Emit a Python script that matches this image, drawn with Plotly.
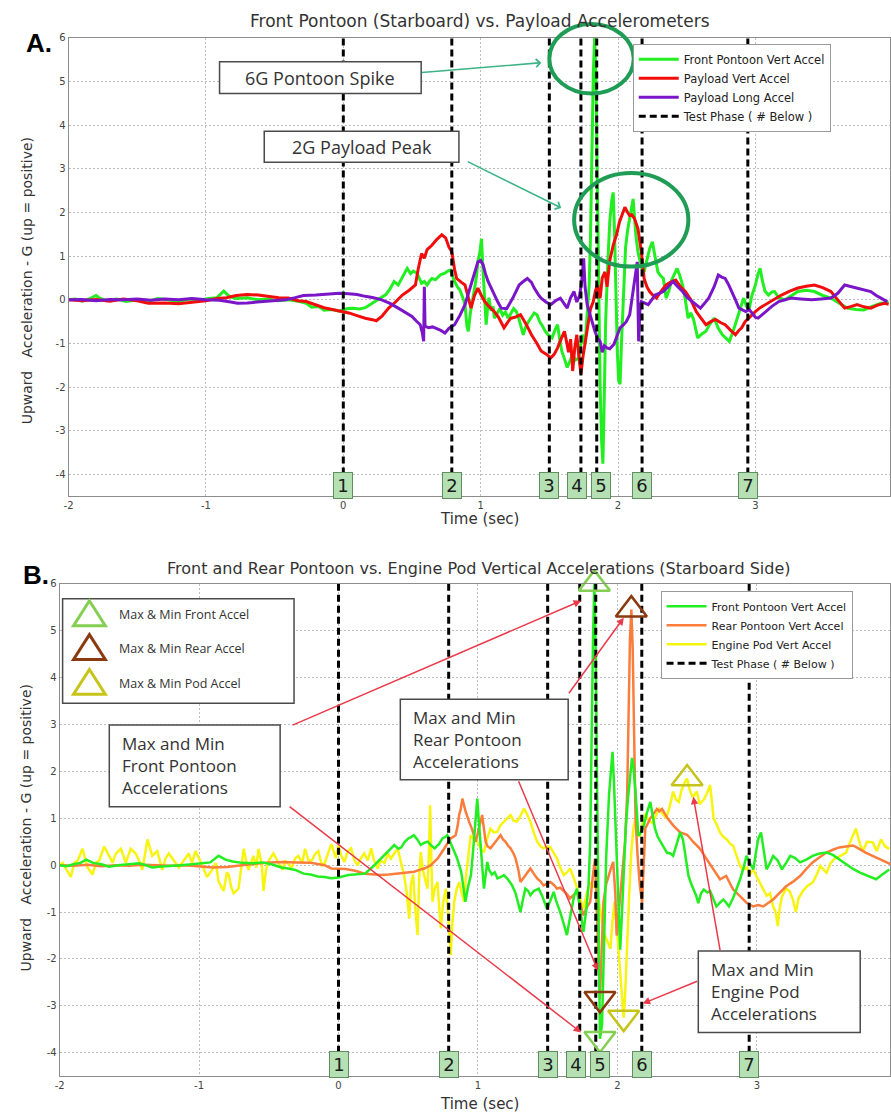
import numpy as np
import plotly.graph_objects as go

# ---------------------------------------------------------------- data
PHASE_T = [0.0, 0.79, 1.50, 1.73, 1.845, 2.175, 2.945]
PHASE_LABELS = ["1", "2", "3", "4", "5", "6", "7"]
X_TICKS = [-2, -1, 0, 1, 2, 3]
Y_TICKS = [-4, -3, -2, -1, 0, 1, 2, 3, 4, 5, 6]

# (time s, acceleration G) samples
A_FRONT = [
    (-2.00, 0.00), (-1.95, 0.02), (-1.90, -0.03), (-1.85, 0.02), (-1.80, 0.10), (-1.77, 0.03),
    (-1.72, -0.02), (-1.65, 0.02), (-1.58, -0.04), (-1.50, 0.00), (-1.42, -0.03), (-1.35, 0.03),
    (-1.28, 0.00), (-1.20, -0.04), (-1.12, 0.02), (-1.05, -0.01), (-0.98, 0.03), (-0.92, 0.05),
    (-0.87, 0.20), (-0.83, 0.08), (-0.78, 0.03), (-0.70, 0.05), (-0.62, 0.00), (-0.55, 0.02),
    (-0.48, -0.02), (-0.40, 0.00), (-0.33, -0.03), (-0.27, -0.08), (-0.23, -0.17), (-0.18, -0.15),
    (-0.14, -0.24), (-0.08, -0.22), (-0.03, -0.26), (0.03, -0.20), (0.07, -0.19), (0.12, -0.21),
    (0.16, -0.18), (0.20, -0.10), (0.24, -0.03), (0.28, 0.05), (0.31, 0.12), (0.34, 0.25),
    (0.37, 0.42), (0.40, 0.34), (0.42, 0.45), (0.44, 0.55), (0.465, 0.72), (0.49, 0.60),
    (0.51, 0.66), (0.537, 0.61), (0.56, 0.45), (0.57, 0.38), (0.59, 0.42), (0.61, 0.34),
    (0.63, 0.44), (0.645, 0.49), (0.67, 0.46), (0.69, 0.53), (0.71, 0.58), (0.74, 0.61),
    (0.76, 0.66), (0.78, 0.68), (0.80, 0.50), (0.81, 0.42), (0.83, 0.30), (0.85, 0.22),
    (0.87, 0.05), (0.886, -0.11), (0.90, -0.60), (0.91, -0.72), (0.925, -0.30), (0.94, -0.05),
    (0.96, 0.34), (0.97, 0.55), (0.98, 0.87), (0.995, 1.10), (1.006, 1.40), (1.015, 0.80),
    (1.025, 0.20), (1.04, -0.57), (1.05, -0.20), (1.06, 0.05), (1.075, -0.25), (1.09, -0.15),
    (1.10, -0.42), (1.12, -0.30), (1.14, -0.20), (1.16, -0.35), (1.18, -0.28), (1.20, -0.42),
    (1.22, -0.32), (1.24, -0.20), (1.26, -0.27), (1.28, -0.45), (1.31, -0.80), (1.33, -0.60),
    (1.35, -0.49), (1.37, -0.40), (1.39, -0.30), (1.41, -0.34), (1.43, -0.50), (1.45, -0.60),
    (1.47, -0.72), (1.49, -0.80), (1.52, -0.87), (1.54, -0.70), (1.56, -0.57), (1.575, -0.90),
    (1.59, -1.17), (1.61, -1.35), (1.63, -1.55), (1.65, -1.40), (1.67, -1.25), (1.69, -1.38),
    (1.715, -1.33), (1.73, -1.00), (1.74, -0.80), (1.76, -1.02), (1.775, -0.40), (1.79, 0.34),
    (1.80, 1.50), (1.81, 3.50), (1.82, 5.20), (1.83, 6.00), (1.84, 5.00), (1.85, 2.50),
    (1.86, 0.00), (1.87, -2.00), (1.88, -3.20), (1.89, -3.75), (1.90, -2.20), (1.91, -0.50),
    (1.925, 0.80), (1.94, 1.80), (1.955, 2.30), (1.965, 2.46), (1.975, 1.50), (1.985, 0.00),
    (1.995, -1.20), (2.005, -1.86), (2.015, -1.93), (2.025, -1.00), (2.04, 0.30), (2.055, 1.20),
    (2.07, 1.60), (2.085, 1.86), (2.10, 2.20), (2.11, 2.31), (2.12, 1.90), (2.13, 1.48),
    (2.145, 1.10), (2.16, 0.87), (2.175, 0.70), (2.19, 0.64), (2.21, 0.90), (2.23, 1.17),
    (2.25, 1.33), (2.27, 0.95), (2.29, 0.64), (2.31, 0.55), (2.33, 0.49), (2.35, 0.04),
    (2.37, 0.20), (2.39, 0.45), (2.41, 0.60), (2.43, 0.72), (2.45, 0.55), (2.47, 0.34),
    (2.49, 0.00), (2.51, -0.42), (2.53, -0.30), (2.55, -0.45), (2.58, -0.87), (2.61, -0.78),
    (2.64, -0.72), (2.67, -0.55), (2.70, -0.42), (2.73, -0.65), (2.76, -0.80), (2.79, -0.88),
    (2.81, -0.95), (2.835, -0.75), (2.855, -0.57), (2.88, -0.30), (2.90, -0.10), (2.915, 0.04),
    (2.935, -0.15), (2.955, -0.20), (2.975, 0.10), (3.00, 0.34), (3.02, 0.60), (3.035, 0.72),
    (3.05, 0.45), (3.07, 0.20), (3.095, 0.11), (3.12, 0.18), (3.14, 0.19), (3.17, 0.05),
    (3.215, 0.00), (3.26, 0.10), (3.31, 0.19), (3.37, 0.22), (3.43, 0.19), (3.49, 0.10),
    (3.55, 0.04), (3.61, -0.08), (3.67, -0.19), (3.73, -0.22), (3.79, -0.23), (3.85, -0.15),
    (3.91, -0.08), (3.97, -0.05),
]

A_PAYLOAD_VERT = [
    (-2.00, 0.00), (-1.90, -0.02), (-1.80, 0.01), (-1.70, -0.03), (-1.60, 0.02), (-1.50, -0.02),
    (-1.42, -0.08), (-1.30, -0.07), (-1.20, -0.09), (-1.10, -0.05), (-1.00, -0.02), (-0.92, 0.03),
    (-0.85, 0.05), (-0.78, 0.10), (-0.70, 0.12), (-0.62, 0.11), (-0.55, 0.08), (-0.47, 0.05),
    (-0.40, 0.04), (-0.33, -0.02), (-0.27, -0.04), (-0.20, -0.12), (-0.14, -0.18), (-0.08, -0.22),
    (-0.02, -0.26), (0.04, -0.30), (0.10, -0.36), (0.16, -0.42), (0.22, -0.46), (0.24, -0.48),
    (0.28, -0.38), (0.33, -0.19), (0.38, -0.05), (0.43, 0.11), (0.48, 0.22), (0.525, 0.34),
    (0.545, 0.70), (0.57, 1.06), (0.59, 0.95), (0.61, 1.15), (0.645, 1.25), (0.68, 1.38),
    (0.717, 1.49), (0.745, 1.42), (0.77, 1.20), (0.79, 1.10), (0.81, 0.70), (0.825, 0.49),
    (0.86, 0.40), (0.886, 0.34), (0.91, 0.05), (0.93, -0.19), (0.955, 0.10), (0.98, 0.27),
    (1.005, 0.10), (1.03, -0.04), (1.06, -0.15), (1.10, -0.27), (1.13, -0.40), (1.17, -0.64),
    (1.20, -0.50), (1.22, -0.42), (1.25, -0.40), (1.29, -0.34), (1.33, -0.55), (1.37, -0.80),
    (1.41, -1.00), (1.44, -1.17), (1.48, -1.25), (1.51, -1.33), (1.535, -1.25), (1.56, -1.10),
    (1.585, -0.90), (1.61, -0.72), (1.625, -0.95), (1.64, -1.20), (1.655, -0.90), (1.67, -1.63),
    (1.685, -1.10), (1.70, -0.80), (1.715, -1.30), (1.73, -1.70), (1.745, -1.30), (1.76, -1.02),
    (1.78, -0.60), (1.80, -0.20), (1.82, -0.04), (1.835, 0.20), (1.85, 0.34), (1.87, 0.04),
    (1.885, 0.50), (1.905, 0.64), (1.92, 0.30), (1.94, 0.90), (1.965, 1.25), (1.99, 1.50),
    (2.01, 1.78), (2.03, 1.95), (2.05, 2.12), (2.07, 2.00), (2.085, 1.93), (2.10, 1.95),
    (2.12, 1.86), (2.145, 1.63), (2.16, 1.35), (2.17, 1.10), (2.18, 0.80), (2.19, 0.49),
    (2.21, 0.30), (2.23, 0.19), (2.255, 0.10), (2.28, 0.04), (2.31, 0.18), (2.35, 0.34),
    (2.38, 0.40), (2.42, 0.45), (2.455, 0.30), (2.49, 0.19), (2.53, 0.00), (2.57, -0.27),
    (2.60, -0.40), (2.64, -0.57), (2.675, -0.50), (2.71, -0.45), (2.745, -0.52), (2.78, -0.57),
    (2.82, -0.70), (2.855, -0.80), (2.88, -0.70), (2.90, -0.64), (2.925, -0.50), (2.95, -0.42),
    (2.975, -0.35), (3.00, -0.27), (3.035, -0.18), (3.07, -0.11), (3.13, 0.00), (3.19, 0.11),
    (3.25, 0.20), (3.31, 0.27), (3.37, 0.31), (3.43, 0.34), (3.49, 0.28), (3.55, 0.19),
    (3.60, 0.00), (3.65, -0.19), (3.70, -0.15), (3.74, -0.11), (3.79, -0.16), (3.84, -0.19),
    (3.89, -0.12), (3.94, -0.08), (3.97, -0.10),
]

A_PAYLOAD_LONG = [
    (-2.00, 0.00), (-1.90, 0.01), (-1.80, -0.02), (-1.70, 0.01), (-1.60, 0.00), (-1.50, 0.02),
    (-1.40, -0.01), (-1.30, 0.02), (-1.20, 0.00), (-1.10, 0.03), (-1.00, 0.00), (-0.90, -0.01),
    (-0.82, -0.05), (-0.77, -0.08), (-0.70, -0.07), (-0.60, -0.05), (-0.50, -0.03), (-0.42, 0.00),
    (-0.35, 0.05), (-0.29, 0.10), (-0.20, 0.11), (-0.12, 0.13), (-0.03, 0.15), (0.04, 0.14),
    (0.10, 0.12), (0.16, 0.08), (0.22, 0.05), (0.28, 0.00), (0.34, -0.08), (0.40, -0.19),
    (0.45, -0.28), (0.50, -0.38), (0.53, -0.48), (0.56, -0.57), (0.575, -0.75), (0.585, -0.95),
    (0.59, 0.30), (0.595, -0.60), (0.62, -0.64), (0.65, -0.62), (0.68, -0.66), (0.71, -0.70),
    (0.74, -0.76), (0.77, -0.65), (0.81, -0.57), (0.85, -0.35), (0.886, -0.11), (0.91, 0.15),
    (0.93, 0.34), (0.955, 0.60), (0.98, 0.87), (1.00, 0.90), (1.018, 0.80), (1.035, 0.60),
    (1.054, 0.42), (1.08, 0.25), (1.10, 0.11), (1.125, -0.05), (1.15, -0.19), (1.19, -0.20),
    (1.234, 0.04), (1.26, 0.20), (1.28, 0.34), (1.31, 0.42), (1.34, 0.49), (1.37, 0.40),
    (1.39, 0.27), (1.42, 0.12), (1.44, 0.04), (1.475, -0.05), (1.51, -0.11), (1.545, -0.02),
    (1.58, 0.04), (1.61, -0.10), (1.63, -0.19), (1.655, 0.05), (1.68, 0.19), (1.70, -0.05),
    (1.72, 0.10), (1.735, 0.40), (1.75, 0.95), (1.76, 0.30), (1.775, -0.10), (1.79, -0.27),
    (1.81, -0.50), (1.83, -0.70), (1.85, -0.87), (1.87, -0.95), (1.885, -1.20), (1.90, -1.05),
    (1.92, -1.10), (1.94, -1.12), (1.97, -1.02), (1.99, -0.85), (2.015, -0.64), (2.04, -0.57),
    (2.06, -0.50), (2.085, -0.34), (2.105, 0.10), (2.12, 0.34), (2.14, 0.87), (2.15, -0.95),
    (2.16, -0.20), (2.17, -0.04), (2.195, -0.08), (2.22, -0.11), (2.245, 0.00), (2.27, 0.11),
    (2.30, 0.15), (2.33, 0.19), (2.365, 0.30), (2.40, 0.42), (2.435, 0.30), (2.47, 0.19),
    (2.505, 0.05), (2.54, -0.04), (2.57, -0.12), (2.60, -0.19), (2.63, -0.08), (2.66, 0.04),
    (2.70, 0.30), (2.73, 0.57), (2.755, 0.52), (2.78, 0.49), (2.805, 0.35), (2.83, 0.19),
    (2.855, 0.00), (2.88, -0.19), (2.905, -0.24), (2.93, -0.27), (2.955, -0.22), (2.98, -0.32),
    (3.00, -0.40), (3.02, -0.42), (3.045, -0.35), (3.07, -0.27), (3.12, -0.15), (3.17, -0.04),
    (3.22, 0.00), (3.26, 0.04), (3.33, 0.02), (3.41, 0.00), (3.48, 0.02), (3.55, 0.04),
    (3.60, 0.15), (3.65, 0.34), (3.70, 0.30), (3.74, 0.27), (3.79, 0.24), (3.84, 0.19),
    (3.88, 0.10), (3.91, 0.04), (3.96, -0.04),
]

B_FRONT = [
    (-2.00, 0.00), (-1.95, -0.02), (-1.90, 0.02), (-1.85, 0.05), (-1.81, 0.12), (-1.76, 0.05),
    (-1.70, 0.02), (-1.645, -0.03), (-1.58, 0.00), (-1.50, 0.02), (-1.43, 0.04), (-1.38, 0.00),
    (-1.336, -0.05), (-1.27, -0.03), (-1.20, -0.02), (-1.13, 0.00), (-1.05, 0.02), (-0.98, 0.05),
    (-0.92, 0.06), (-0.86, 0.20), (-0.81, 0.12), (-0.76, 0.08), (-0.69, 0.05), (-0.62, 0.04),
    (-0.55, 0.06), (-0.48, 0.02), (-0.41, -0.05), (-0.36, -0.07), (-0.31, -0.10), (-0.25, -0.18),
    (-0.20, -0.20), (-0.15, -0.24), (-0.10, -0.25), (-0.05, -0.28), (0.00, -0.26), (0.07, -0.21),
    (0.13, -0.20), (0.19, -0.18), (0.24, -0.05), (0.28, 0.07), (0.31, 0.15), (0.35, 0.28),
    (0.38, 0.35), (0.40, 0.43), (0.43, 0.35), (0.45, 0.38), (0.475, 0.50), (0.50, 0.57),
    (0.52, 0.60), (0.54, 0.64), (0.565, 0.55), (0.59, 0.43), (0.615, 0.48), (0.64, 0.50),
    (0.665, 0.42), (0.69, 0.36), (0.72, 0.45), (0.745, 0.57), (0.765, 0.60), (0.78, 0.64),
    (0.80, 0.50), (0.82, 0.36), (0.85, 0.15), (0.88, -0.14), (0.895, -0.50), (0.91, -0.78),
    (0.93, -0.45), (0.95, -0.21), (0.965, 0.30), (0.976, 0.71), (0.995, 1.42), (1.005, 1.00),
    (1.02, 0.50), (1.03, 0.00), (1.043, -0.50), (1.055, -0.20), (1.067, 0.07), (1.08, -0.10),
    (1.10, -0.20), (1.12, -0.15), (1.14, -0.28), (1.165, -0.25), (1.186, -0.21), (1.215, -0.30),
    (1.245, -0.43), (1.27, -0.60), (1.29, -0.85), (1.305, -1.00), (1.325, -0.70), (1.34, -0.50),
    (1.36, -0.55), (1.376, -0.64), (1.40, -0.55), (1.436, -0.50), (1.46, -0.65), (1.48, -0.80),
    (1.495, -0.93), (1.52, -0.75), (1.543, -0.57), (1.565, -0.80), (1.59, -1.00), (1.615, -1.25),
    (1.638, -1.49), (1.655, -1.20), (1.675, -0.85), (1.69, -0.65), (1.71, -0.50), (1.73, -0.90),
    (1.757, -1.42), (1.775, -1.00), (1.793, -0.43), (1.805, 0.50), (1.815, 2.80), (1.825, 4.80),
    (1.835, 6.00), (1.845, 4.50), (1.855, 1.50), (1.865, -1.50), (1.875, -3.70), (1.89, -3.40),
    (1.905, -1.50), (1.92, 0.20), (1.94, 1.50), (1.955, 2.20), (1.965, 2.42), (1.975, 1.80),
    (1.99, 0.50), (2.005, -0.80), (2.02, -1.80), (2.03, -1.20), (2.045, 0.00), (2.06, 0.80),
    (2.075, 1.40), (2.09, 1.90), (2.105, 2.29), (2.115, 2.10), (2.13, 1.57), (2.15, 0.63),
    (2.17, 0.70), (2.19, 0.85), (2.21, 1.10), (2.236, 1.35), (2.25, 1.10), (2.27, 0.78),
    (2.29, 0.60), (2.31, 0.49), (2.335, 0.35), (2.355, 0.27), (2.38, 0.25), (2.40, 0.20),
    (2.425, 0.45), (2.45, 0.70), (2.47, 0.55), (2.49, 0.15), (2.51, -0.23), (2.53, -0.40),
    (2.546, -0.52), (2.565, -0.65), (2.58, -0.81), (2.60, -0.60), (2.62, -0.52), (2.645, -0.58),
    (2.665, -0.55), (2.69, -0.75), (2.71, -0.88), (2.735, -0.80), (2.76, -0.73), (2.78, -0.80),
    (2.80, -0.88), (2.83, -0.70), (2.855, -0.52), (2.88, -0.30), (2.905, -0.05), (2.926, 0.20),
    (2.95, 0.05), (2.975, -0.09), (2.995, 0.30), (3.01, 0.56), (3.03, 0.70), (3.05, 0.35),
    (3.07, -0.09), (3.095, 0.05), (3.117, 0.20), (3.15, 0.10), (3.18, -0.09), (3.21, 0.05),
    (3.24, 0.20), (3.275, 0.15), (3.31, 0.06), (3.355, 0.12), (3.40, 0.20), (3.45, 0.25),
    (3.50, 0.27), (3.545, 0.22), (3.59, 0.13), (3.64, 0.02), (3.69, -0.08), (3.74, -0.16),
    (3.80, -0.24), (3.855, -0.30), (3.90, -0.20), (3.95, -0.09),
]

B_REAR = [
    (-2.00, 0.00), (-1.90, -0.01), (-1.80, 0.01), (-1.70, -0.02), (-1.60, 0.00), (-1.50, -0.01),
    (-1.40, 0.01), (-1.30, 0.00), (-1.20, -0.01), (-1.10, 0.00), (-1.00, -0.03), (-0.90, -0.05),
    (-0.80, -0.04), (-0.70, 0.00), (-0.60, 0.03), (-0.50, 0.06), (-0.40, 0.07), (-0.30, 0.06),
    (-0.20, 0.05), (-0.10, 0.00), (-0.05, -0.07), (0.05, -0.08), (0.12, -0.12), (0.186, -0.18),
    (0.25, -0.20), (0.305, -0.21), (0.36, -0.20), (0.424, -0.18), (0.48, -0.16), (0.543, -0.14),
    (0.58, -0.10), (0.615, -0.07), (0.662, 0.00), (0.71, 0.14), (0.735, 0.25), (0.757, 0.36),
    (0.78, 0.45), (0.805, 0.57), (0.84, 0.64), (0.855, 0.85), (0.865, 1.07), (0.877, 1.20),
    (0.888, 1.42), (0.90, 1.25), (0.912, 1.14), (0.936, 0.93), (0.96, 0.75), (0.984, 0.50),
    (1.007, 0.78), (1.03, 1.07), (1.055, 0.50), (1.07, 0.40), (1.09, 0.36), (1.115, 0.45),
    (1.14, 0.55), (1.162, 0.64), (1.18, 0.55), (1.198, 0.50), (1.215, 0.42), (1.234, 0.36),
    (1.255, 0.25), (1.27, 0.14), (1.29, -0.10), (1.305, -0.36), (1.32, -0.30), (1.34, -0.21),
    (1.36, -0.12), (1.376, -0.07), (1.40, -0.18), (1.424, -0.28), (1.45, -0.35), (1.47, -0.43),
    (1.495, -0.40), (1.52, -0.36), (1.545, -0.42), (1.567, -0.50), (1.59, -0.48), (1.615, -0.55),
    (1.64, -0.62), (1.66, -0.71), (1.685, -0.65), (1.71, -0.57), (1.735, -0.85), (1.757, -1.07),
    (1.78, -0.90), (1.805, -0.78), (1.825, -0.20), (1.84, 0.14), (1.855, -1.20), (1.865, -2.20),
    (1.875, -2.85), (1.885, -2.00), (1.90, -0.78), (1.92, -0.40), (1.936, -0.21), (1.955, -0.05),
    (1.97, 0.07), (1.985, -0.60), (1.995, -1.50), (2.01, -1.00), (2.03, -0.20), (2.055, 0.50),
    (2.07, 1.50), (2.08, 3.20), (2.09, 4.80), (2.10, 5.45), (2.11, 4.60), (2.12, 2.80),
    (2.13, 1.00), (2.145, 0.20), (2.16, -0.40), (2.177, -0.80), (2.19, 0.10), (2.20, 0.78),
    (2.22, 0.90), (2.236, 1.00), (2.26, 1.10), (2.284, 1.20), (2.30, 1.15), (2.32, 1.20),
    (2.36, 1.00), (2.40, 0.85), (2.45, 0.70), (2.50, 0.65), (2.546, 0.49), (2.593, 0.35),
    (2.64, 0.13), (2.69, -0.09), (2.736, -0.30), (2.78, -0.23), (2.83, -0.52), (2.879, -0.66),
    (2.926, -0.80), (2.974, -0.88), (3.01, -0.85), (3.046, -0.88), (3.08, -0.80), (3.117, -0.73),
    (3.16, -0.60), (3.21, -0.45), (3.26, -0.35), (3.31, -0.23), (3.355, -0.08), (3.40, 0.06),
    (3.45, 0.17), (3.50, 0.27), (3.545, 0.33), (3.59, 0.38), (3.64, 0.40), (3.69, 0.42),
    (3.735, 0.35), (3.78, 0.27), (3.83, 0.20), (3.88, 0.13), (3.92, 0.06), (3.96, 0.02),
]

B_POD = [
    (-2.00, 0.00), (-1.978, 0.05), (-1.95, -0.10), (-1.92, -0.25), (-1.895, 0.05), (-1.87, 0.10),
    (-1.836, 0.35), (-1.80, -0.05), (-1.764, -0.20), (-1.74, 0.05), (-1.716, 0.10), (-1.69, 0.30),
    (-1.68, 0.40), (-1.645, 0.20), (-1.62, 0.05), (-1.597, 0.25), (-1.56, 0.35), (-1.526, 0.05),
    (-1.49, 0.35), (-1.455, 0.25), (-1.43, 0.10), (-1.407, -0.10), (-1.37, 0.55), (-1.336, 0.20),
    (-1.30, 0.30), (-1.264, -0.10), (-1.24, 0.15), (-1.217, 0.25), (-1.18, 0.10), (-1.145, -0.05),
    (-1.11, 0.10), (-1.074, 0.25), (-1.05, 0.05), (-1.026, 0.30), (-0.978, 0.00), (-0.943, -0.25),
    (-0.907, -0.10), (-0.88, 0.05), (-0.86, -0.35), (-0.824, -0.55), (-0.80, -0.15), (-0.788, -0.20),
    (-0.77, -0.45), (-0.752, -0.60), (-0.717, -0.50), (-0.70, -0.10), (-0.68, 0.35), (-0.66, 0.05),
    (-0.645, -0.10), (-0.61, 0.20), (-0.59, -0.05), (-0.574, 0.35), (-0.55, 0.00), (-0.538, -0.55),
    (-0.52, -0.10), (-0.50, 0.10), (-0.467, 0.25), (-0.43, 0.05), (-0.40, -0.10), (-0.383, 0.10),
    (-0.336, -0.05), (-0.31, 0.15), (-0.288, 0.20), (-0.26, 0.05), (-0.24, 0.35), (-0.215, 0.10),
    (-0.193, 0.10), (-0.165, 0.25), (-0.145, 0.30), (-0.12, 0.00), (-0.098, 0.05), (-0.07, 0.30),
    (-0.05, 0.45), (-0.02, 0.15), (0.00, 0.43), (0.02, 0.20), (0.043, 0.07), (0.065, 0.30),
    (0.09, 0.36), (0.115, 0.10), (0.138, 0.00), (0.16, 0.15), (0.185, 0.25), (0.21, 0.10),
    (0.234, 0.36), (0.255, 0.10), (0.28, -0.07), (0.30, 0.10), (0.33, 0.05), (0.355, 0.25),
    (0.376, 0.14), (0.40, 0.25), (0.424, 0.36), (0.445, 0.10), (0.47, -0.21), (0.49, -0.60),
    (0.507, -1.14), (0.52, -0.40), (0.535, -0.20), (0.55, -0.90), (0.567, -1.49), (0.578, -0.30),
    (0.59, 0.28), (0.605, -0.10), (0.62, -0.30), (0.638, -0.50), (0.65, 0.40), (0.657, 1.28),
    (0.665, 0.20), (0.674, -0.78), (0.69, -0.50), (0.71, -0.36), (0.72, -0.80), (0.734, -1.35),
    (0.75, -0.80), (0.77, -0.50), (0.785, -1.00), (0.805, -1.92), (0.815, -1.30), (0.83, -0.78),
    (0.848, -0.50), (0.865, -0.36), (0.88, -0.55), (0.90, -0.78), (0.912, -0.30), (0.924, 0.07),
    (0.935, 0.40), (0.948, 0.64), (0.97, 0.55), (0.995, 0.50), (1.02, 0.35), (1.043, 0.28),
    (1.065, 0.55), (1.09, 0.78), (1.115, 0.70), (1.138, 0.71), (1.16, 0.85), (1.186, 0.93),
    (1.21, 1.00), (1.234, 1.07), (1.255, 0.95), (1.28, 0.93), (1.305, 1.05), (1.33, 1.21),
    (1.35, 1.10), (1.376, 0.93), (1.40, 0.70), (1.424, 0.50), (1.45, 0.40), (1.47, 0.36),
    (1.50, 0.40), (1.52, 0.38), (1.545, 0.25), (1.567, 0.14), (1.59, -0.05), (1.615, -0.21),
    (1.64, -0.15), (1.66, -0.07), (1.685, -0.25), (1.71, -0.50), (1.735, -0.70), (1.757, -0.93),
    (1.78, -0.60), (1.805, -0.36), (1.83, -0.45), (1.85, -0.50), (1.875, -0.90), (1.90, -1.42),
    (1.925, -1.60), (1.95, -1.78), (1.965, -1.20), (1.98, -0.78), (2.00, -1.50), (2.02, -2.20),
    (2.035, -2.90), (2.045, -3.25), (2.055, -2.80), (2.07, -1.50), (2.085, -0.60), (2.10, 0.30),
    (2.115, 0.80), (2.13, 1.00), (2.145, 0.70), (2.16, 0.60), (2.18, 0.90), (2.20, 1.10),
    (2.225, 0.95), (2.25, 0.90), (2.275, 1.05), (2.30, 1.20), (2.325, 1.10), (2.35, 1.00),
    (2.375, 1.25), (2.40, 1.57), (2.42, 1.40), (2.44, 1.35), (2.46, 1.60), (2.48, 1.75),
    (2.50, 1.85), (2.52, 1.60), (2.54, 1.45), (2.57, 1.57), (2.59, 1.30), (2.62, 1.40),
    (2.645, 1.55), (2.665, 1.71), (2.68, 1.30), (2.69, 1.00), (2.715, 0.85), (2.736, 0.70),
    (2.76, 0.60), (2.785, 0.55), (2.81, 0.45), (2.83, 0.42), (2.855, 0.20), (2.879, -0.01),
    (2.90, -0.10), (2.93, -0.05), (2.95, -0.20), (2.974, -0.09), (3.00, -0.25), (3.02, -0.37),
    (3.045, -0.50), (3.07, -0.65), (3.095, -0.60), (3.117, -0.88), (3.135, -1.00), (3.15, -1.30),
    (3.165, -0.90), (3.18, -0.67), (3.21, -0.50), (3.235, -0.55), (3.26, -0.75), (3.28, -1.00),
    (3.30, -0.70), (3.33, -0.55), (3.36, -0.45), (3.40, -0.37), (3.43, -0.20), (3.455, -0.01),
    (3.48, -0.10), (3.50, -0.16), (3.53, 0.05), (3.56, 0.15), (3.60, 0.20), (3.64, 0.27),
    (3.67, 0.50), (3.71, 0.78), (3.74, 0.45), (3.76, 0.30), (3.79, 0.50), (3.83, 0.49),
    (3.86, 0.30), (3.89, 0.55), (3.92, 0.40), (3.95, 0.35),
]

# ---------------------------------------------------------------- style
W, H = 891, 1116
GREEN = "#22ee22"
RED = "#f20d0d"
PURPLE = "#7a16c8"
ORANGE = "#fb7d3c"
YELLOW = "#f8f412"
TRI_FRONT = "#84cf52"
TRI_REAR = "#8b3a10"
TRI_POD = "#c6c41a"
ARROW_RED = "#ea3a4a"
ARROW_GREEN = "#3cb487"
RING = "#1f9d55"
TXT = "#333333"
SANS = "DejaVu Sans"
BOXFONT = "Open Sans"


def fx(px):
    return px / W


def fy(py):
    return 1 - py / H


def split(pairs):
    t, v = zip(*pairs)
    return list(t), list(v)


fig = go.Figure()


def add_series(pairs, name, color, width, xa, ya, legend, rank):
    t, v = split(pairs)
    fig.add_trace(go.Scatter(
        x=t, y=v, mode="lines", name=name, legend=legend, legendrank=rank,
        line=dict(color=color, width=width), xaxis=xa, yaxis=ya,
    ))


def add_phases(xa, ya, legend):
    xs, ys = [], []
    for t in PHASE_T:
        xs += [t, t, None]
        ys += [-4.0, 6.0, None]
    fig.add_trace(go.Scatter(
        x=xs, y=ys, mode="lines", name="Test Phase ( # Below )", legend=legend,
        legendrank=10, line=dict(color="black", width=3, dash="7px,4px"),
        xaxis=xa, yaxis=ya, cliponaxis=False,
    ))


# panel A
add_series(A_FRONT, "Front Pontoon Vert Accel", GREEN, 3, "x", "y", "legend", 1)
add_series(A_PAYLOAD_VERT, "Payload Vert Accel", RED, 3, "x", "y", "legend", 2)
add_series(A_PAYLOAD_LONG, "Payload Long Accel", PURPLE, 3, "x", "y", "legend", 3)
add_phases("x", "y", "legend")

# panel B (pod drawn first so the pontoon traces sit above it)
add_series(B_POD, "Engine Pod Vert Accel", YELLOW, 2.5, "x2", "y2", "legend2", 3)
add_series(B_REAR, "Rear Pontoon Vert Accel", ORANGE, 2.5, "x2", "y2", "legend2", 2)
add_series(B_FRONT, "Front Pontoon Vert Accel", GREEN, 2.5, "x2", "y2", "legend2", 1)
add_phases("x2", "y2", "legend2")

# max / min markers on panel B
for pairs, color in [(B_FRONT, TRI_FRONT), (B_REAR, TRI_REAR), (B_POD, TRI_POD)]:
    t, v = split(pairs)
    imax, imin = int(np.argmax(v)), int(np.argmin(v))
    fig.add_trace(go.Scatter(
        x=[t[imax], t[imin]], y=[v[imax], v[imin]], mode="markers", showlegend=False,
        marker=dict(symbol=["triangle-up-open", "triangle-down-open"], size=27,
                    color=color, line=dict(color=color, width=2.5)),
        xaxis="x2", yaxis="y2", cliponaxis=False,
    ))

# ---------------------------------------------------------------- axes
tick_font = dict(family=SANS, size=10, color="#444")
common_x = dict(
    tickvals=X_TICKS, ticktext=[str(v) for v in X_TICKS],
    showgrid=True, gridcolor="#bdbdbd", griddash="2px,2px", gridwidth=1,
    zeroline=False, showline=True, linecolor="#8c8c8c", linewidth=1, mirror=True,
    ticks="", tickfont=tick_font,
)
common_y = dict(
    tickvals=Y_TICKS, ticktext=[str(v) for v in Y_TICKS], range=[-4.5, 6],
    showgrid=True, gridcolor="#bdbdbd", griddash="2px,2px", gridwidth=1,
    zeroline=False, showline=True, linecolor="#8c8c8c", linewidth=1, mirror=True,
    ticks="", tickfont=tick_font,
)

fig.update_layout(
    width=W, height=H, margin=dict(l=0, r=0, t=0, b=0),
    paper_bgcolor="white", plot_bgcolor="white",
    xaxis=dict(domain=[fx(64), 1], range=[-2, 3.98], anchor="y", **common_x),
    yaxis=dict(domain=[fy(493), fy(32)], anchor="x", **common_y),
    xaxis2=dict(domain=[fx(55), 1], range=[-2, 3.955], anchor="y2", **common_x),
    yaxis2=dict(domain=[fy(1076), fy(581)], anchor="x2", **common_y),
    legend=dict(x=fx(632), y=fy(38), xanchor="left", yanchor="top", bgcolor="white",
                bordercolor="#9a9a9a", borderwidth=1, font=dict(family=SANS, size=11.5, color="#222"),
                tracegroupgap=0, itemwidth=40),
    legend2=dict(x=fx(660), y=fy(588), xanchor="left", yanchor="top", bgcolor="white",
                 bordercolor="#9a9a9a", borderwidth=1, font=dict(family=SANS, size=11, color="#222"),
                 tracegroupgap=0, itemwidth=40),
)

ann = []
shapes = []


def label(text, px, py, size, family=SANS, color=TXT, angle=0, xanchor="center"):
    ann.append(dict(text=text, x=fx(px), y=fy(py), xref="paper", yref="paper", showarrow=False,
                    xanchor=xanchor, yanchor="middle", textangle=angle,
                    font=dict(family=family, size=size, color=color)))


# titles, panel letters, axis titles
label("Front Pontoon (Starboard) vs. Payload Accelerometers", 478, 15, 17)
label("Front and Rear Pontoon vs. Engine Pod Vertical Accelerations (Starboard Side)", 477, 566, 16)
label("<b>A.</b>", 34, 37, 26, family="Liberation Sans", color="black")
label("<b>B.</b>", 31, 572, 26, family="Liberation Sans", color="black")
ytitle = "Upward\u00a0\u00a0\u00a0Acceleration - G (up = positive)"
label(ytitle, 22, 276, 14, angle=-90)
label(ytitle, 21, 826, 14, angle=-90)
label("Time (sec)", 478, 516, 15)
label("Time (sec)", 478, 1104, 15)

# phase number boxes
box_shift = {"4": -4, "5": 4}
for xa, ya in [("x", "y"), ("x2", "y2")]:
    for t, lab in zip(PHASE_T, PHASE_LABELS):
        ann.append(dict(text=lab, x=t, y=-4.26, xref=xa, yref=ya, showarrow=False,
                        xanchor="center", yanchor="middle",
                        xshift=box_shift.get(lab, 0), font=dict(family=SANS, size=18, color="#1a1a1a"),
                        bgcolor="#b4e0b4", bordercolor="#5f8f5f", borderwidth=1, borderpad=1,
                        width=16, height=23))


def text_box(x0, y0, x1, y1, lines, size, pad_left=None):
    shapes.append(dict(type="rect", xref="paper", yref="paper", x0=fx(x0), x1=fx(x1),
                       y0=fy(y1), y1=fy(y0), line=dict(color="#4a4a4a", width=1.5),
                       fillcolor="white", layer="above"))
    ym = (y0 + y1) / 2
    if pad_left is None:
        label("<br>".join(lines), (x0 + x1) / 2, ym, size, family=BOXFONT)
    else:
        ann.append(dict(text="<br>".join(lines), x=fx(x0 + pad_left), y=fy(ym),
                        xanchor="left", yanchor="middle", align="left",
                        xref="paper", yref="paper", showarrow=False,
                        font=dict(family=BOXFONT, size=size, color=TXT)))


text_box(216, 56, 419, 88, ["6G Pontoon Spike"], 18)
text_box(261, 126, 457, 157, ["2G Payload Peak"], 18)
text_box(105, 723, 277, 805, ["Max and Min", "Front Pontoon", "Accelerations"], 17, pad_left=11)
text_box(398, 697, 567, 778, ["Max and Min", "Rear Pontoon", "Accelerations"], 17, pad_left=11)
text_box(698, 950, 861, 1032, ["Max and Min", "Engine Pod", "Accelerations"], 17, pad_left=11)

# rings around the spike and the payload peak
shapes.append(dict(type="circle", xref="paper", yref="paper", x0=fx(548), x1=fx(633),
                   y0=fy(88), y1=fy(18), line=dict(color=RING, width=4)))
shapes.append(dict(type="circle", xref="paper", yref="paper", x0=fx(573), x1=fx(688),
                   y0=fy(262), y1=fy(168), line=dict(color=RING, width=4)))


def arrow(head, tail, color, style, width):
    ann.append(dict(text="", x=fx(head[0]), y=fy(head[1]), xref="paper", yref="paper",
                    ax=tail[0] - head[0], ay=tail[1] - head[1], showarrow=True,
                    arrowhead=style, arrowsize=1, arrowwidth=width, arrowcolor=color, standoff=0))


arrow((540, 57), (419, 67), ARROW_GREEN, 4, 1.6)
arrow((560, 203), (465, 156), ARROW_GREEN, 4, 1.6)
arrow((580, 598), (290, 723), ARROW_RED, 2, 1.5)
arrow((580, 1032), (287, 805), ARROW_RED, 2, 1.5)
arrow((623, 615), (567, 692), ARROW_RED, 2, 1.5)
arrow((597, 970), (517, 779), ARROW_RED, 2, 1.5)
arrow((642, 1003), (698, 980), ARROW_RED, 2, 1.5)
arrow((693, 795), (720, 950), ARROW_RED, 2, 1.5)

# legend box for the max / min markers
shapes.append(dict(type="rect", xref="paper", yref="paper", x0=fx(58), x1=fx(291),
                   y0=fy(701), y1=fy(596), line=dict(color="#4a4a4a", width=1.5), fillcolor="white"))
for cy, color, name in [(611, TRI_FRONT, "Max & Min Front Accel"),
                        (645, TRI_REAR, "Max & Min Rear Accel"),
                        (680, TRI_POD, "Max & Min Pod Accel")]:
    cx = 85
    path = "M {} {} L {} {} L {} {} Z".format(fx(cx - 16), fy(cy + 12), fx(cx + 16), fy(cy + 12),
                                               fx(cx), fy(cy - 13))
    shapes.append(dict(type="path", xref="paper", yref="paper", path=path,
                       line=dict(color=color, width=3)))
    label(name, 113, cy + 1, 12.5, family=BOXFONT, xanchor="left")

fig.update_layout(annotations=ann, shapes=shapes)
fig.write_html("out.html")
